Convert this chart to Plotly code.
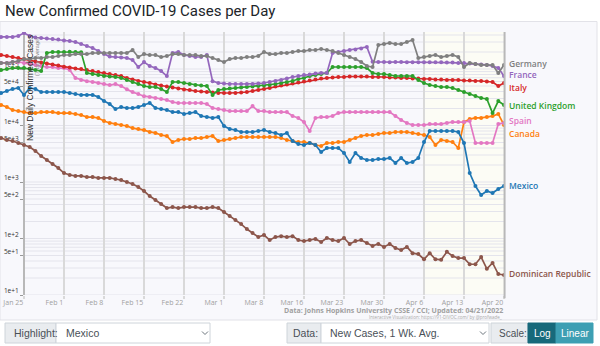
import math
import pandas as pd
import plotly.graph_objects as go

# ---------------------------------------------------------------- data
dates = pd.date_range("2022-01-21", periods=89, freq="D")

germany = [
    127700, 127700, 133000, 138500, 150000, 150000, 156500, 156500, 163000, 163000,
    170000, 177000, 177000, 184000, 184000, 184000, 192000, 192000, 192000, 192000,
    192000, 192000, 192000, 217000, 163000, 184000, 177000, 177000, 163000, 170000,
    184000, 184000, 177000, 177000, 177000, 170000, 170000, 156500, 144000, 133000,
    150000, 156500, 156500, 163000, 163000, 170000, 200000, 184000, 184000, 192000,
    192000, 200000, 208000, 208000, 217000, 217000, 226000, 217000, 208000, 192000,
    177000, 163000, 150000, 133000, 113000, 108500, 266000, 277000, 289000, 277000,
    277000, 301000, 326000, 156500, 163000, 170000, 177000, 163000, 170000, 177000,
    163000, 108500, 127700, 122600, 117700, 117700, 117700, 85000, 117700,
]

france = [
    369000, 369000, 369000, 384000, 434000, 384000, 361000, 354000, 347000, 340000,
    333000, 319000, 313000, 301000, 277000, 255000, 235000, 208000, 184000, 166000,
    163000, 160000, 157000, 144000, 108000, 133000, 113000, 104000, 92000, 75000,
    192000, 200000, 177000, 170000, 163000, 163000, 177000, 61000, 56500, 55400,
    54300, 54300, 54300, 54300, 54300, 55400, 56500, 58900, 61300, 63900,
    67900, 72200, 75200, 78300, 80000, 83000, 85000, 85000, 192000, 200000,
    208000, 217000, 221000, 230000, 245000, 134000, 133000, 133000, 132000, 133000,
    133000, 132000, 132000, 131000, 131000, 132000, 131000, 131000, 130000, 130000,
    128000, 128000, 125000, 123000, 120000, 118000, 113000, 104000, 75000,
]

italy = [
    177000, 170000, 163000, 156000, 150000, 144000, 136000, 130000, 125000, 120000,
    115000, 110000, 106000, 102000, 100000, 96000, 92000, 88500, 85000, 81600,
    78300, 75200, 69300, 65200, 61300, 58900, 56500, 53200, 51000, 49000,
    47000, 45100, 43300, 42500, 40800, 40000, 39200, 38400, 37600, 37600,
    37600, 37600, 38400, 39200, 40800, 42500, 44200, 46100, 49000, 51000,
    53200, 55400, 57700, 60100, 62600, 65200, 67900, 69300, 70700, 72200,
    72200, 73700, 73700, 73700, 73700, 72200, 72200, 72200, 70700, 70700,
    69300, 69300, 67900, 67900, 66500, 66500, 65200, 65200, 63900, 63900,
    63900, 62600, 62600, 61300, 61300, 60100, 58900, 50000, 56500,
]

united_kingdom = [
    96000, 100000, 104000, 104000, 104000, 100000, 96000, 92000, 192000, 200000,
    200000, 199000, 201000, 200000, 198000, 85000, 81600, 78300, 75200, 73700,
    72200, 69300, 63900, 58900, 54300, 50000, 48000, 48000, 44200, 39200,
    58900, 58900, 56500, 54300, 52100, 51000, 50000, 34700, 42500, 44200,
    45100, 46100, 47000, 48000, 49000, 50000, 51000, 52100, 54300, 56500,
    58900, 61300, 66500, 69300, 75200, 78300, 81600, 85000, 108500, 108500,
    108500, 108500, 108500, 108500, 104000, 85000, 81600, 81600, 78300, 75200,
    75200, 75200, 75200, 63900, 56500, 52100, 50000, 48000, 48000, 46100,
    42500, 39200, 36100, 33300, 30700, 29500, 16600, 27100, 23000,
]

spain = [
    128000, 128000, 133000, 133000, 128000, 123000, 118000, 113000, 108000, 108000,
    104000, 104000, 96000, 69000, 64000, 61000, 59000, 56500, 54000, 52000,
    54000, 50000, 44000, 39000, 36000, 33000, 32000, 30700, 29400, 28300,
    26000, 25000, 25000, 25000, 25000, 25000, 24000, 20400, 19600, 18800,
    18000, 18000, 18000, 18000, 22100, 18000, 18000, 17300, 17300, 17300,
    17300, 14700, 13600, 11500, 8000, 13600, 14100, 14100, 14700, 16600,
    17300, 17300, 17300, 17300, 17300, 17300, 17300, 17300, 17300, 14700,
    12500, 11100, 10200, 10200, 10200, 10600, 10600, 10600, 11100, 11500,
    11500, 11500, 12000, 4900, 4900, 4900, 4900, 10600, 11100,
]

canada = [
    23000, 21200, 18800, 18000, 17300, 16600, 16600, 17300, 17300, 17300,
    16600, 16600, 16600, 16000, 15300, 14100, 14100, 13600, 12000, 11100,
    10600, 10200, 9800, 9000, 8700, 8300, 7700, 7400, 6800, 6500,
    5100, 5540, 5770, 5770, 6000, 6000, 6260, 6520, 5320, 5540,
    5770, 6000, 6260, 6260, 6260, 6260, 6260, 6260, 6260, 6000,
    5540, 5320, 5100, 5100, 4900, 4520, 4340, 4900, 4900, 5100,
    5100, 5540, 6000, 6520, 6790, 6790, 7070, 7370, 7370, 7670,
    7670, 7670, 7370, 7070, 6790, 6260, 4520, 5540, 5320, 5100,
    4000, 11500, 13000, 13600, 13600, 14100, 14700, 16000, 10200,
]

mexico = [
    37600, 40800, 44200, 46100, 34700, 46100, 44200, 39200, 39200, 39200,
    39200, 39200, 37600, 36100, 34700, 34700, 34700, 32000, 27100, 24000,
    19600, 21200, 20400, 20400, 21200, 23000, 25000, 20400, 19600, 18800,
    17300, 17300, 16000, 16600, 17300, 14700, 14100, 13600, 14100, 9800,
    8670, 8320, 7670, 7670, 7670, 8000, 8320, 7670, 7370, 6790,
    7370, 5320, 4700, 4520, 4900, 4520, 3390, 4000, 4000, 4000,
    3260, 2260, 3260, 2660, 2450, 2450, 2550, 2550, 2660, 2170,
    2660, 2170, 2260, 2660, 5100, 8000, 8000, 8000, 8000, 8000,
    7670, 4900, 1440, 850, 588, 692, 638, 751, 850,
]

dominican_republic = [
    6000, 5540, 5320, 4900, 4520, 4160, 3540, 2880, 2450, 2080,
    1770, 1440, 1330, 1280, 1280, 1220, 1220, 1180, 1180, 1180,
    1130, 1080, 1000, 921, 815, 692, 564, 480, 408, 346,
    360, 346, 360, 360, 360, 346, 346, 360, 346, 294,
    250, 212, 180, 147, 125, 106, 115, 94, 106, 110,
    106, 110, 94, 90, 94, 98, 87, 102, 94, 90,
    102, 80, 90, 94, 83, 74, 80, 71, 80, 68,
    62.5, 71, 55, 53, 43, 55, 43, 42, 58, 49,
    45, 45, 35, 35, 47, 29, 37, 23.5, 22.6,
]

x_tick_dates = pd.date_range("2022-01-25", periods=13, freq="7D")
x_tick_text = ["Jan 25", "Feb 1", "Feb 8", "Feb 15", "Feb 22", "Mar 1", "Mar 8",
               "Mar 16", "Mar 23", "Mar 30", "Apr 6", "Apr 13", "Apr 20"]
y_tick_vals = [10, 50, 100, 500, 1000, 5000, 10000, 50000, 100000]
y_tick_text = ["1e+1", "5e+1", "1e+2", "5e+2", "1e+3", "5e+3", "1e+4", "5e+4", "1e+5"]

# ---------------------------------------------------------------- styling
series = [
    ("Dominican Republic", dominican_republic, "#8c564b"),
    ("Canada", canada, "#ff7f0e"),
    ("Spain", spain, "#e377c2"),
    ("Italy", italy, "#d62728"),
    ("United Kingdom", united_kingdom, "#2ca02c"),
    ("France", france, "#9467bd"),
    ("Germany", germany, "#7f7f7f"),
    ("Mexico", mexico, "#1f77b4"),
]
# vertical nudges (px) so that neighbouring end labels do not collide
label_shift = {"Germany": 2, "France": 2, "Italy": -4, "Spain": 2.5,
               "Canada": -8, "Dominican Republic": 1}

W, H = 600, 346
M_T, M_B = 32, 51
PLOT_H = H - M_T - M_B
PX_PER_DAY = 40 / 7.0
AXIS_PX = 24                      # where the y axis sits
Y_TOP = 1 + PLOT_H / 56.5         # log10 of the top of the value axis

x_start = pd.Timestamp("2022-01-25") - pd.Timedelta(days=AXIS_PX / PX_PER_DAY)
x_end = dates[-1] + pd.Timedelta(days=0.1)
plot_w = (x_end - x_start) / pd.Timedelta(days=1) * PX_PER_DAY
x_dom_end = plot_w / W


def px(x):
    return x / W


def py(y):
    return (H - M_B - y) / PLOT_H


FONT = "Liberation Sans, Arial, sans-serif"
LABEL_FONT = "Open Sans, sans-serif"

fig = go.Figure()
for name, vals, color in series:
    fig.add_trace(go.Scatter(
        x=dates, y=vals, mode="lines+markers", name=name,
        line=dict(color=color, width=1.7),
        marker=dict(color=color, size=4),
        showlegend=False, hoverinfo="skip",
    ))

shapes = []
# chart panel background
shapes.append(dict(type="rect", xref="paper", yref="paper",
                   x0=px(0), x1=px(597), y0=py(320), y1=py(21.5),
                   fillcolor="#f8f8fc", line=dict(color="#e2e2e8", width=1),
                   layer="below"))
# recent two weeks band
shapes.append(dict(type="rect", xref="x", yref="paper",
                   x0=pd.Timestamp("2022-04-05"), x1=x_end, y0=0, y1=1,
                   fillcolor="#fcfcf5", line=dict(width=0), layer="below"))
# horizontal log grid, starting at the y axis
for exp in range(1, 6):
    for m in range(1, 10):
        v = m * 10 ** exp
        if math.log10(v) <= Y_TOP:
            shapes.append(dict(type="line", xref="x", yref="y",
                               x0=x_tick_dates[0], x1=x_end, y0=v, y1=v,
                               line=dict(color="#e4e4ec", width=1), layer="below"))
# right edge of the plotting area
shapes.append(dict(type="line", xref="x domain", yref="y domain",
                   x0=1, x1=1, y0=-0.012, y1=1,
                   line=dict(color="#b8b8b8", width=2), layer="above"))


def box(x0, y0, x1, y1, fill, line):
    shapes.append(dict(type="rect", xref="paper", yref="paper",
                       x0=px(x0), x1=px(x1), y0=py(y1), y1=py(y0),
                       fillcolor=fill, line=dict(color=line, width=1)))


def chevron(cx, cy):
    path = "M {} {} L {} {} L {} {}".format(px(cx - 3), py(cy - 1.5), px(cx), py(cy + 1.5),
                                           px(cx + 3), py(cy - 1.5))
    shapes.append(dict(type="path", xref="paper", yref="paper", path=path,
                       line=dict(color="#6c757d", width=1)))


# controls row
box(5, 323, 56, 343, "#e9ecef", "#ced4da")
box(56, 323, 210, 343, "#ffffff", "#ced4da")
chevron(205, 333)
box(287, 323, 321, 343, "#e9ecef", "#ced4da")
box(321, 323, 489, 343, "#ffffff", "#ced4da")
chevron(483, 333)
box(491, 323, 528, 343, "#e9ecef", "#ced4da")
box(528, 323, 556, 343, "#17697a", "#17697a")
box(556, 323, 593, 343, "#3d9fb3", "#3d9fb3")

annotations = []


def text(x, y, s, size, color, anchor="left", family=FONT, weight="normal", **kw):
    annotations.append(dict(xref="paper", yref="paper", x=px(x), y=py(y), text=s,
                            showarrow=False, xanchor=anchor, yanchor="middle",
                            font=dict(family=family, size=size, color=color, weight=weight),
                            **kw))


text(3, 11, "New Confirmed COVID-19 Cases per Day", 15, "#212529",
     family="Roboto, Arial, sans-serif")
text(12, 333, "Highlight:", 10.5, "#495057")
text(64, 333, "Mexico", 10.5, "#495057")
text(291, 333, "Data:", 10.5, "#495057")
text(328, 333, "New Cases, 1 Wk. Avg.", 10.5, "#495057")
text(497, 333, "Scale:", 10, "#495057")
text(542, 333, "Log", 10, "#ffffff", anchor="center")
text(574.5, 333, "Linear", 10, "#ffffff", anchor="center")
text(505, 310.5, "Data: Johns Hopkins University CSSE / CCI; Updated: 04/21/2022", 7,
     "#a0a0a0", anchor="right", family=LABEL_FONT, weight="bold")
text(504, 316.5, "Interactive Visualization: https://91-DIVOC.com/ by @profwade_", 4.5,
     "#a8a8a8", anchor="right", family=LABEL_FONT)
text(30, 88, "New Daily Confirmed Cases", 8.5, "#2a2a2a", anchor="center", textangle=-90)
annotations.append(dict(xref="paper", yref="paper", x=px(36.5), y=py(35),
                        text="(7-day average)", showarrow=False, textangle=-90,
                        xanchor="center", yanchor="top",
                        font=dict(family=FONT, size=5.5, color="#8a8a8a")))

# series names at the line ends
for name, vals, color in series:
    annotations.append(dict(xref="x", yref="y", x=dates[-1], y=math.log10(vals[-1]),
                            text=name, showarrow=False, xanchor="left", yanchor="middle",
                            xshift=3, yshift=label_shift.get(name, 0),
                            font=dict(family=LABEL_FONT, size=8.5, color=color, weight=600)))

fig.update_layout(
    width=W, height=H,
    margin=dict(l=0, r=0, t=M_T, b=M_B),
    paper_bgcolor="#ffffff", plot_bgcolor="rgba(0,0,0,0)",
    shapes=shapes, annotations=annotations,
    xaxis=dict(
        type="date", domain=[0, x_dom_end], range=[x_start, x_end],
        tickvals=list(x_tick_dates), ticktext=x_tick_text,
        ticklabelposition="outside left", ticklabelstandoff=1,
        tickfont=dict(family=LABEL_FONT, size=7, color="#a0a0a0"),
        ticks="outside", ticklen=3, tickcolor="#d9d9d9", tickwidth=1.5,
        showgrid=True, gridcolor="#d9d9d9", gridwidth=1.5,
        showline=False, zeroline=False, fixedrange=True,
    ),
    yaxis=dict(
        type="log", range=[1, Y_TOP], anchor="free", position=AXIS_PX / W,
        tickvals=y_tick_vals, ticktext=y_tick_text, ticklabelshift=-4,
        tickfont=dict(family=LABEL_FONT, size=6.5, color="#333333"),
        ticks="outside", ticklen=3, tickcolor="#999999",
        showgrid=False, showline=True, linecolor="#b8b8b8", linewidth=2,
        layer="below traces", zeroline=False, fixedrange=True,
    ),
)

fig.write_html("out.html")
